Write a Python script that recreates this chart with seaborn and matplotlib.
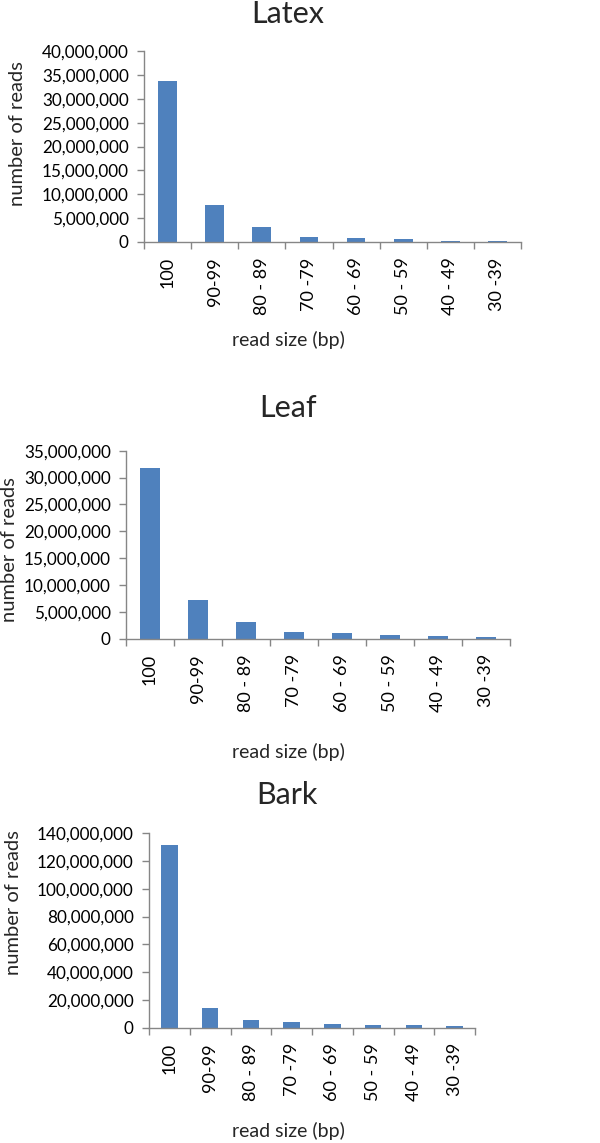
import matplotlib
matplotlib.use('Agg')
import matplotlib.pyplot as plt
import matplotlib.ticker as mticker
import numpy as np
import pandas as pd
import seaborn as sns

# read size bins (x axis), same for all three tissues
read_sizes = ['100', '90-99', '80 - 89', '70 -79', '60 - 69', '50 - 59', '40 - 49', '30 -39']

# number of reads per bin
latex_reads = [33_800_000, 7_800_000, 3_100_000, 1_100_000, 770_000, 700_000, 300_000, 250_000]
leaf_reads = [31_800_000, 7_150_000, 3_050_000, 1_250_000, 1_000_000, 700_000, 500_000, 400_000]
bark_reads = [131_500_000, 14_000_000, 5_800_000, 3_900_000, 2_700_000, 1_600_000, 1_600_000, 1_300_000]

latex_yticks = np.arange(0, 40_000_001, 5_000_000)
leaf_yticks = np.arange(0, 35_000_001, 5_000_000)
bark_yticks = np.arange(0, 140_000_001, 20_000_000)

BAR_COLOR = '#4F81BD'
AXIS_COLOR = '#868686'
W, H = 600, 1143

sns.set_theme(style='white')
plt.rcParams['font.family'] = ['Lato', 'DejaVu Sans']


def px(x, y):
    """pixel coords (top-left origin) -> figure fraction"""
    return x / W, 1 - y / H


def draw_panel(fig, title, values, yticks, box, title_xy, ylab_xy, xlab_y):
    left, top, right, bottom = box
    x0, y1 = px(left, top)
    x1, y0 = px(right, bottom)
    ax = fig.add_axes([x0, y0, x1 - x0, y1 - y0])

    df = pd.DataFrame({'size': read_sizes, 'reads': values})
    sns.barplot(data=df, x='size', y='reads', color=BAR_COLOR, width=0.4,
                saturation=1, edgecolor='none', ax=ax)

    ax.set_xlim(-0.5, len(read_sizes) - 0.5)
    ax.set_ylim(yticks[0], yticks[-1])
    ax.set_yticks(yticks)
    ax.yaxis.set_major_formatter(mticker.FuncFormatter(lambda v, p: f'{v:,.0f}'))
    ax.set_xticks(np.arange(len(read_sizes)))
    ax.set_xticklabels(read_sizes, rotation=90, va='top')
    ax.set_xticks(np.arange(len(read_sizes) + 1) - 0.5, minor=True)

    ax.tick_params(axis='x', which='major', length=0, pad=11, labelsize=13, colors='black')
    ax.tick_params(axis='x', which='minor', length=5, width=1, color=AXIS_COLOR, bottom=True)
    ax.tick_params(axis='y', length=5, width=1, color=AXIS_COLOR, left=True, pad=6,
                   labelsize=12.3, labelcolor='black')

    for side in ['top', 'right']:
        ax.spines[side].set_visible(False)
    for side in ['left', 'bottom']:
        ax.spines[side].set_color(AXIS_COLOR)
        ax.spines[side].set_linewidth(1)

    ax.set_xlabel('')
    ax.set_ylabel('')

    tx, ty = px(*title_xy)
    fig.text(tx, ty, title, ha='center', va='center', fontsize=22)
    lx, ly = px(*ylab_xy)
    fig.text(lx, ly, 'number of reads', rotation=90, ha='center', va='center', fontsize=14.5)
    xx, xy = px(288, xlab_y)
    fig.text(xx, xy, 'read size (bp)', ha='center', va='center', fontsize=14)
    return ax


fig = plt.figure(figsize=(W / 100, H / 100), dpi=100)

draw_panel(fig, 'Latex', latex_reads, latex_yticks,
           box=(144, 51, 521, 242), title_xy=(288, 14), ylab_xy=(18, 134), xlab_y=340)
draw_panel(fig, 'Leaf', leaf_reads, leaf_yticks,
           box=(126, 450.7, 510, 638.7), title_xy=(288, 408), ylab_xy=(10, 550), xlab_y=752)
draw_panel(fig, 'Bark', bark_reads, bark_yticks,
           box=(149, 833.3, 475, 1027.7), title_xy=(287, 795), ylab_xy=(14, 903), xlab_y=1131)

fig.savefig('out.png', dpi=100)
plt.close(fig)
